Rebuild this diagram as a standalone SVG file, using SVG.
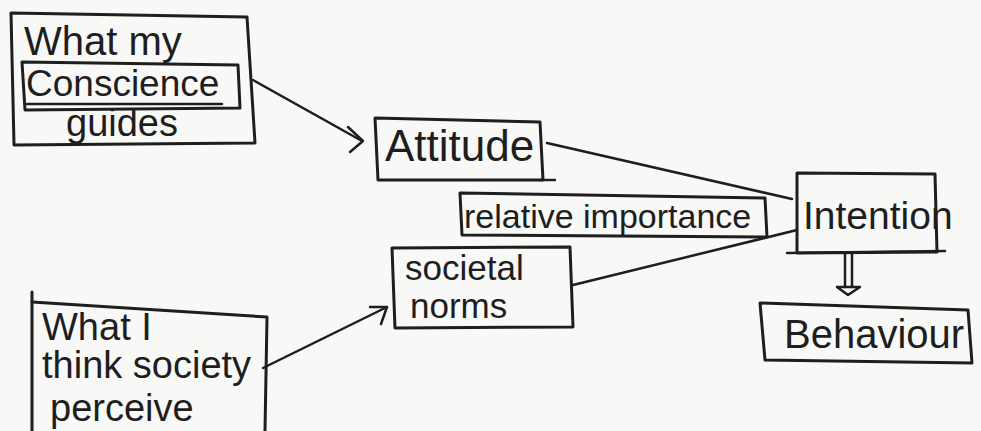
<svg xmlns="http://www.w3.org/2000/svg" width="981" height="431" viewBox="0 0 981 431">
<style>
.box{fill:none;stroke:#1e1e1e;stroke-width:3;stroke-linejoin:round;stroke-linecap:round}
.ln{fill:none;stroke:#1e1e1e;stroke-width:2.5;stroke-linecap:round;stroke-linejoin:round}
text{font-family:"Liberation Sans",Arial,sans-serif;fill:#1e1e1e;font-size:38px}
</style>
<rect width="981" height="431" fill="#f8f8f7"/>
<g id="conscience">
<polygon class="box" points="11,13 247,17 255,143 14,145"/>
<polygon class="box" points="22,62 238,65 240,108 25,110"/>
<line class="ln" x1="27" y1="104" x2="222" y2="104"/>
<text x="24" y="55" style="font-size:40px">What my</text>
<text x="26" y="96" style="font-size:37px">Conscience</text>
<text x="66" y="136">guides</text>
</g>
<g id="society">
<polyline class="box" points="32,292 32,431"/>
<polyline class="box" points="32,302 267,317 265,431"/>
<text x="42" y="340">What I</text>
<text x="42" y="378">think society</text>
<text x="50" y="421">perceive</text>
</g>
<g id="attitude">
<polygon class="box" points="375,118 540,122 543,180 378,180"/>
<line class="ln" x1="540" y1="180" x2="555" y2="180"/>
<text x="385" y="161" style="font-size:44px">Attitude</text>
</g>
<g id="importance">
<polygon class="box" points="460,193 765,198 767,237 462,235"/>
<text x="464" y="228" style="font-size:34px">relative importance</text>
</g>
<g id="norms">
<polygon class="box" points="392,248 570,247 573,327 395,328"/>
<text x="405" y="280" style="font-size:35px">societal</text>
<text x="410" y="318" style="font-size:35px">norms</text>
</g>
<g id="intention">
<polygon class="box" points="797,173 935,174 937,252 797,253"/>
<line class="ln" x1="787" y1="253" x2="945" y2="251"/>
<text x="803" y="229" style="font-size:39px">Intention</text>
</g>
<g id="behaviour">
<polygon class="box" points="760,303 968,310 972,363 765,360"/>
<text x="784" y="348" style="font-size:40px">Behaviour</text>
</g>
<g id="connectors">
<line class="ln" x1="253" y1="80" x2="362" y2="141"/>
<polyline class="ln" points="348,127 363,141 350,152"/>
<line class="ln" x1="547" y1="143" x2="792" y2="199"/>
<line class="ln" x1="573" y1="285" x2="797" y2="230"/>
<line class="ln" x1="263" y1="368" x2="387" y2="307"/>
<polyline class="ln" points="370,307 387,307 381,324"/>
<line class="ln" x1="845" y1="254" x2="845" y2="287"/>
<line class="ln" x1="852" y1="254" x2="852" y2="287"/>
<polyline class="ln" points="837,287 860,287 848,295 837,287"/>
</g>
</svg>
